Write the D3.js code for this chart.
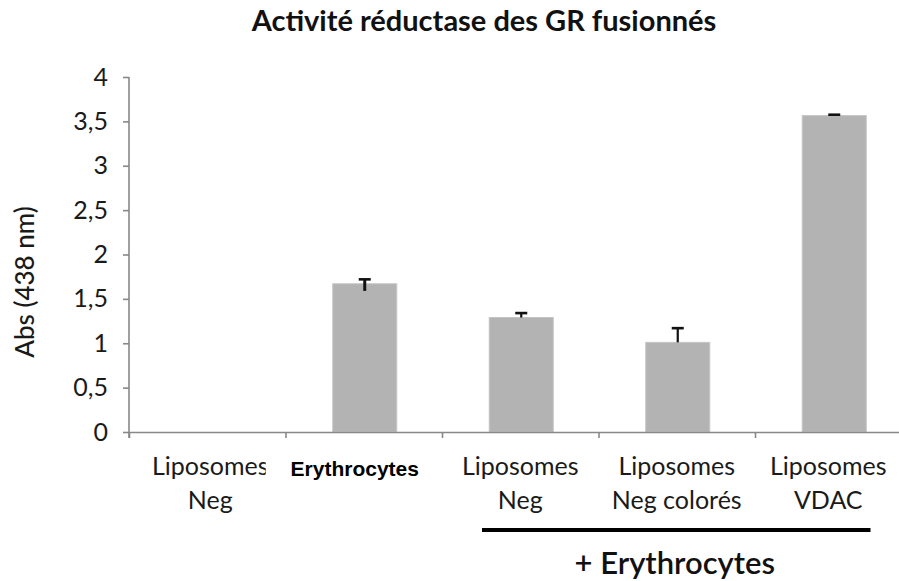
<!DOCTYPE html>
<html>
<head>
<meta charset="utf-8">
<script src="https://cdn.jsdelivr.net/npm/d3@7"></script>
<style>
  html, body { margin: 0; padding: 0; background: #fff; }
  svg { display: block; }
</style>
</head>
<body>
<svg id="chart" width="899" height="581"></svg>
<script>
// Category labels (one entry per line of text)
const categories = [
  ["Liposomes", "Neg"],
  ["Erythrocytes"],
  ["Liposomes", "Neg"],
  ["Liposomes", "Neg colorés"],
  ["Liposomes", "VDAC"]
];
// Mean absorbance at 438 nm
const values = [0, 1.67, 1.29, 1.01, 3.565];
// Upper error (standard deviation)
const errUp = [0, 0.05, 0.05, 0.16, 0.01];
// Lower whisker length
const errDown = [0, 0.08, 0, 0, 0];
// Y axis tick values and labels
const yTicks = [0, 0.5, 1, 1.5, 2, 2.5, 3, 3.5, 4];
const yTickLabels = ["0", "0,5", "1", "1,5", "2", "2,5", "3", "3,5", "4"];

const title = "Activité réductase des GR fusionnés";
const yTitle = "Abs (438 nm)";
const groupLabel = "+ Erythrocytes";

const svg = d3.select("#chart");
const font = "Lato, 'Open Sans', sans-serif";
const axisColor = "#888888";

const plot = { left: 129, top: 77, bottom: 432, band: 156.5 };

const x = d3.scaleBand()
  .domain(d3.range(categories.length))
  .range([plot.left, plot.left + plot.band * categories.length])
  .paddingInner(0).paddingOuter(0);

const y = d3.scaleLinear().domain([0, 4]).range([plot.bottom, plot.top]);

const barW = 64;

// Bars
svg.append("g").selectAll("rect")
  .data(values)
  .join("rect")
  .attr("x", (d, i) => x(i) + x.bandwidth() / 2 - barW / 2 + 1)
  .attr("y", d => y(d))
  .attr("width", barW)
  .attr("height", d => y(0) - y(d))
  .attr("fill", "#b3b3b3")
  .attr("stroke", "#c4c4c4")
  .attr("stroke-width", 1)
  .attr("display", d => d > 0 ? null : "none");

// Error bars
const eb = svg.append("g").attr("stroke", "#111").attr("fill", "none");
values.forEach((v, i) => {
  if (v <= 0) return;
  const cx = x(i) + x.bandwidth() / 2 + 1;
  eb.append("line")
    .attr("x1", cx).attr("x2", cx)
    .attr("y1", y(v - errDown[i])).attr("y2", y(v + errUp[i]))
    .attr("stroke-width", errDown[i] > 0 ? 3 : 2.2);
  eb.append("line")
    .attr("x1", cx - 6).attr("x2", cx + 6)
    .attr("y1", y(v + errUp[i])).attr("y2", y(v + errUp[i]))
    .attr("stroke-width", 2.6);
});

// Y axis
const yAxis = d3.axisLeft(y)
  .tickValues(yTicks)
  .tickFormat((d, i) => yTickLabels[i])
  .tickSizeInner(6).tickSizeOuter(0).tickPadding(15);
const gy = svg.append("g")
  .attr("transform", `translate(${plot.left},0)`)
  .call(yAxis);
gy.select(".domain").attr("stroke", axisColor).attr("stroke-width", 1.6)
  .attr("d", `M0,${plot.top}V${plot.bottom + 6}`);
gy.selectAll(".tick line").attr("stroke", axisColor).attr("stroke-width", 1.6);
gy.selectAll(".tick text")
  .attr("font-family", font).attr("font-size", 25).attr("fill", "#1a1a1a");

// X axis (ticks on category boundaries)
const xAxis = d3.axisBottom(d3.scaleLinear()
    .domain([0, categories.length])
    .range([plot.left, plot.left + plot.band * categories.length]))
  .tickValues(d3.range(categories.length + 1))
  .tickFormat("")
  .tickSizeInner(6).tickSizeOuter(0);
const gx = svg.append("g")
  .attr("transform", `translate(0,${plot.bottom})`)
  .call(xAxis);
gx.select(".domain").attr("stroke", axisColor).attr("stroke-width", 1.6);
gx.selectAll(".tick line").attr("stroke", axisColor).attr("stroke-width", 1.6);

// Category labels
const labels = svg.append("g");
categories.forEach((lines, i) => {
  const cx = x(i) + x.bandwidth() / 2;
  const bold = lines.length === 1;
  if (bold) {
    // white box behind the bold label
    labels.append("rect")
      .attr("x", cx - 98).attr("y", 448)
      .attr("width", 160).attr("height", 40)
      .attr("fill", "#fff");
  }
  const t = labels.append("text")
    .attr("text-anchor", "middle")
    .attr("font-family", bold ? "Arial, 'Liberation Sans', sans-serif" : font)
    .attr("font-weight", bold ? "bold" : "normal")
    .attr("font-size", bold ? 21 : 25)
    .attr("fill", bold ? "#000" : "#1a1a1a");
  lines.forEach((s, k) => {
    t.append("tspan")
      .attr("x", bold ? cx - 9 : cx + (i === 4 ? -5 : i === 0 ? 3 : 0))
      .attr("y", (bold ? 476 : 475) + k * 34)
      .text(s);
  });
});
// keep the first label underneath the white box
labels.select("text").lower();

// Bracket line grouping the fused samples
const gStart = x(2) + 40, gEnd = x(4) + x.bandwidth() - 41;
svg.append("line")
  .attr("x1", gStart).attr("x2", gEnd)
  .attr("y1", 530).attr("y2", 530)
  .attr("stroke", "#000").attr("stroke-width", 4);
svg.append("text")
  .attr("x", x(3) + x.bandwidth() / 2 - 2)
  .attr("y", 574)
  .attr("text-anchor", "middle")
  .attr("font-family", font).attr("font-size", 31).attr("font-weight", 600)
  .attr("fill", "#111")
  .text(groupLabel);

// Y axis title
svg.append("text")
  .attr("transform", `translate(34,282) rotate(-90)`)
  .attr("text-anchor", "middle")
  .attr("font-family", font).attr("font-size", 26).attr("font-weight", 500)
  .attr("fill", "#1a1a1a")
  .text(yTitle);

// Chart title
svg.append("text")
  .attr("x", 484).attr("y", 31)
  .attr("text-anchor", "middle")
  .attr("font-family", font).attr("font-size", 29).attr("font-weight", "bold")
  .attr("fill", "#111")
  .text(title);
</script>
</body>
</html>
